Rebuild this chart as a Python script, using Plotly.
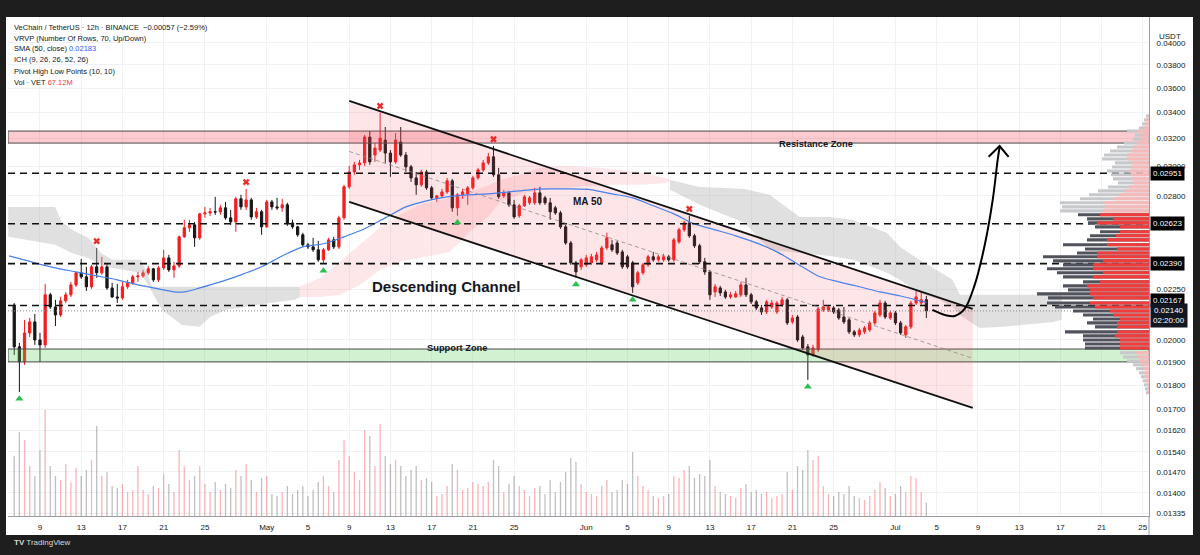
import numpy as np
import pandas as pd
import plotly.graph_objects as go

# ---------------- DATA ----------------
start_time = "2025-04-06 12:00"   # first 12h candle

opens = [0.02170,0.01968,0.01900,0.02033,0.02086,0.02000,0.01977,0.02222,0.02160,0.02120,
0.02191,0.02222,0.02274,0.02339,0.02317,0.02264,0.02372,0.02339,0.02372,0.02258,
0.02211,0.02206,0.02264,0.02285,0.02317,0.02322,0.02339,0.02361,0.02301,0.02366,
0.02422,0.02355,0.02377,0.02544,0.02598,0.02616,0.02538,0.02684,0.02690,0.02697,
0.02696,0.02722,0.02659,0.02634,0.02780,0.02728,0.02773,0.02665,0.02697,0.02604,
0.02760,0.02728,0.02722,0.02741,0.02628,0.02604,0.02556,0.02497,0.02485,0.02468,
0.02411,0.02468,0.02526,0.02485,0.02659,0.02859,0.02960,0.03009,0.03023,0.03211,
0.03079,0.03115,0.03188,0.03093,0.03030,0.03174,0.03079,0.02995,0.02919,0.02872,
0.02960,0.02852,0.02786,0.02799,0.02825,0.02899,0.02722,0.02806,0.02812,0.02852,
0.02919,0.02974,0.03023,0.03066,0.02940,0.02799,0.02819,0.02741,0.02672,0.02735,
0.02754,0.02754,0.02819,0.02786,0.02754,0.02722,0.02690,0.02604,0.02508,0.02394,
0.02372,0.02383,0.02394,0.02411,0.02394,0.02479,0.02497,0.02508,0.02456,0.02428,
0.02394,0.02285,0.02339,0.02383,0.02428,0.02411,0.02411,0.02428,0.02411,0.02514,
0.02586,0.02628,0.02550,0.02491,0.02400,0.02344,0.02237,0.02258,0.02237,0.02211,
0.02211,0.02222,0.02274,0.02222,0.02186,0.02155,0.02135,0.02160,0.02135,0.02170,
0.02196,0.02086,0.02110,0.02014,0.01968,0.01931,0.01954,0.02145,0.02145,0.02155,
0.02145,0.02110,0.02096,0.02038,0.02024,0.02038,0.02047,0.02081,0.02120,0.02180,
0.02105,0.02130,0.02081,0.02024,0.02062,0.02180,0.02180,0.02197]

highs = [0.02180,0.01986,0.02096,0.02105,0.02125,0.02033,0.02279,0.02232,0.02196,0.02211,
0.02237,0.02290,0.02344,0.02416,0.02372,0.02383,0.02479,0.02428,0.02394,0.02285,
0.02279,0.02290,0.02301,0.02328,0.02344,0.02355,0.02377,0.02366,0.02377,0.02468,
0.02439,0.02400,0.02550,0.02647,0.02647,0.02634,0.02690,0.02728,0.02722,0.02793,
0.02741,0.02760,0.02709,0.02793,0.02806,0.02845,0.02786,0.02722,0.02709,0.02773,
0.02773,0.02786,0.02780,0.02754,0.02647,0.02610,0.02568,0.02508,0.02538,0.02520,
0.02479,0.02538,0.02544,0.02672,0.02872,0.03002,0.03030,0.03044,0.03226,0.03256,
0.03166,0.03398,0.03287,0.03115,0.03241,0.03287,0.03100,0.03009,0.02960,0.02974,
0.02974,0.02865,0.02806,0.02845,0.02919,0.02912,0.02819,0.02845,0.02865,0.02933,
0.02988,0.03044,0.03093,0.03144,0.02988,0.02839,0.02832,0.02773,0.02747,0.02806,
0.02799,0.02852,0.02859,0.02799,0.02786,0.02735,0.02703,0.02616,0.02520,0.02405,
0.02422,0.02439,0.02445,0.02456,0.02491,0.02568,0.02526,0.02520,0.02468,0.02439,
0.02405,0.02350,0.02394,0.02439,0.02456,0.02439,0.02445,0.02439,0.02538,0.02598,
0.02641,0.02672,0.02562,0.02503,0.02422,0.02355,0.02279,0.02269,0.02248,0.02237,
0.02242,0.02290,0.02312,0.02232,0.02196,0.02170,0.02196,0.02196,0.02191,0.02211,
0.02206,0.02120,0.02120,0.02024,0.01981,0.01977,0.02160,0.02196,0.02170,0.02165,
0.02155,0.02160,0.02105,0.02047,0.02057,0.02066,0.02091,0.02140,0.02196,0.02191,
0.02140,0.02140,0.02091,0.02071,0.02191,0.02248,0.02237,0.02216]

lows = [0.01931,0.01771,0.01887,0.02014,0.01977,0.01900,0.01963,0.02150,0.02066,0.02110,
0.02180,0.02211,0.02264,0.02306,0.02242,0.02253,0.02312,0.02328,0.02248,0.02206,
0.02180,0.02196,0.02253,0.02274,0.02290,0.02312,0.02328,0.02290,0.02290,0.02355,
0.02344,0.02312,0.02366,0.02538,0.02574,0.02485,0.02526,0.02659,0.02672,0.02678,
0.02678,0.02647,0.02616,0.02574,0.02709,0.02709,0.02647,0.02653,0.02556,0.02598,
0.02709,0.02709,0.02697,0.02610,0.02592,0.02544,0.02485,0.02473,0.02456,0.02400,
0.02388,0.02462,0.02473,0.02473,0.02647,0.02845,0.02940,0.02974,0.03002,0.03009,
0.03030,0.03100,0.03023,0.02926,0.03016,0.03066,0.02960,0.02892,0.02806,0.02859,
0.02839,0.02773,0.02760,0.02786,0.02812,0.02697,0.02672,0.02780,0.02741,0.02839,
0.02906,0.02960,0.03009,0.02926,0.02780,0.02786,0.02728,0.02653,0.02659,0.02728,
0.02741,0.02741,0.02741,0.02741,0.02647,0.02678,0.02592,0.02497,0.02383,0.02312,
0.02355,0.02372,0.02383,0.02400,0.02383,0.02468,0.02456,0.02439,0.02361,0.02361,
0.02232,0.02274,0.02328,0.02372,0.02400,0.02400,0.02400,0.02400,0.02400,0.02503,
0.02574,0.02538,0.02479,0.02388,0.02328,0.02196,0.02211,0.02216,0.02201,0.02201,
0.02206,0.02211,0.02211,0.02175,0.02145,0.02120,0.02125,0.02150,0.02125,0.02160,
0.02071,0.02076,0.01991,0.01954,0.01822,0.01922,0.01945,0.02135,0.02135,0.02125,
0.02096,0.02076,0.02028,0.02014,0.02014,0.02028,0.02038,0.02071,0.02110,0.02100,
0.02096,0.02071,0.02024,0.02009,0.02052,0.02170,0.02170,0.02105]

closes = [0.01968,0.01900,0.02033,0.02086,0.02000,0.01977,0.02222,0.02160,0.02120,0.02191,
0.02222,0.02274,0.02339,0.02317,0.02264,0.02372,0.02339,0.02372,0.02258,0.02211,
0.02206,0.02264,0.02285,0.02317,0.02322,0.02339,0.02361,0.02301,0.02366,0.02422,
0.02355,0.02377,0.02544,0.02598,0.02616,0.02538,0.02684,0.02690,0.02697,0.02696,
0.02722,0.02659,0.02634,0.02780,0.02728,0.02773,0.02665,0.02697,0.02604,0.02760,
0.02728,0.02722,0.02741,0.02628,0.02604,0.02556,0.02497,0.02485,0.02468,0.02411,
0.02468,0.02526,0.02485,0.02659,0.02859,0.02960,0.03009,0.03023,0.03211,0.03030,
0.03129,0.03203,0.03093,0.03030,0.03188,0.03079,0.02995,0.02919,0.02872,0.02960,
0.02852,0.02786,0.02799,0.02825,0.02899,0.02722,0.02806,0.02825,0.02852,0.02919,
0.02974,0.03023,0.03066,0.02940,0.02793,0.02819,0.02741,0.02665,0.02735,0.02793,
0.02786,0.02819,0.02754,0.02754,0.02697,0.02690,0.02604,0.02508,0.02394,0.02344,
0.02411,0.02422,0.02428,0.02439,0.02479,0.02538,0.02468,0.02450,0.02372,0.02372,
0.02264,0.02339,0.02383,0.02428,0.02411,0.02428,0.02428,0.02411,0.02526,0.02586,
0.02628,0.02550,0.02491,0.02400,0.02344,0.02222,0.02264,0.02232,0.02211,0.02222,
0.02227,0.02274,0.02222,0.02186,0.02155,0.02135,0.02186,0.02180,0.02180,0.02196,
0.02081,0.02105,0.02000,0.01963,0.01931,0.01963,0.02150,0.02160,0.02160,0.02135,
0.02105,0.02086,0.02038,0.02024,0.02047,0.02057,0.02081,0.02130,0.02180,0.02110,
0.02130,0.02081,0.02033,0.02062,0.02180,0.02211,0.02197,0.02140]

volumes_m = [300,420,380,250,200,330,530,250,200,180,
260,170,240,200,230,280,450,200,220,150,
140,160,120,130,250,130,110,150,140,210,
160,120,330,250,180,200,250,160,120,170,
130,160,140,230,200,260,180,120,190,200,
110,100,120,150,110,130,150,100,130,170,
200,150,120,280,380,300,220,180,430,400,
250,460,300,260,280,250,200,230,250,180,
190,170,100,110,150,260,230,130,140,170,
160,150,170,280,250,120,160,200,150,130,
100,140,150,110,180,120,170,220,290,270,
160,120,110,100,150,180,120,130,180,160,
320,200,150,130,100,90,100,110,200,190,
230,250,190,210,200,280,150,120,110,100,
90,140,160,120,130,110,120,90,100,110,
220,130,250,230,330,280,300,150,110,100,
120,110,150,100,90,80,100,130,170,140,
100,110,150,120,200,190,120,67.12]

pivot_high_idx = [16, 45, 71, 93, 131]
pivot_low_idx = [1, 60, 86, 109, 120, 154]

# SMA 50
ma_dates = ["2025-04-06 00:00","2025-04-08 12:00","2025-04-10 12:00","2025-04-12 12:00","2025-04-14 12:00",
"2025-04-16 12:00","2025-04-18 12:00","2025-04-20 12:00","2025-04-22 00:00","2025-04-23 00:00",
"2025-04-24 12:00","2025-04-26 12:00","2025-04-28 12:00","2025-04-30 12:00","2025-05-02 12:00",
"2025-05-04 12:00","2025-05-06 12:00","2025-05-08 12:00","2025-05-10 12:00","2025-05-12 12:00",
"2025-05-14 12:00","2025-05-16 12:00","2025-05-18 12:00","2025-05-20 12:00","2025-05-22 12:00",
"2025-05-24 12:00","2025-05-26 12:00","2025-05-28 12:00","2025-05-30 12:00","2025-06-01 12:00",
"2025-06-03 12:00","2025-06-05 12:00","2025-06-07 12:00","2025-06-09 12:00","2025-06-11 12:00",
"2025-06-13 12:00","2025-06-15 12:00","2025-06-17 12:00","2025-06-19 12:00","2025-06-21 12:00",
"2025-06-23 12:00","2025-06-25 12:00","2025-06-27 12:00","2025-06-29 12:00","2025-07-01 12:00",
"2025-07-04 00:00"]
ma_values = [0.02433,0.02394,0.02366,0.02344,0.02322,0.02301,0.02274,0.02253,0.02237,0.02237,
0.02258,0.02290,0.02328,0.02372,0.02433,0.02485,0.02503,0.02544,0.02592,0.02659,
0.02728,0.02767,0.02793,0.02806,0.02812,0.02825,0.02839,0.02845,0.02845,0.02839,
0.02812,0.02786,0.02735,0.02684,0.02622,0.02586,0.02550,0.02508,0.02456,0.02388,
0.02322,0.02290,0.02264,0.02237,0.02216,0.02183]

# Ichimoku cloud (upper / lower edges), three stretches
cloud_a_dates = ["2025-04-05 22:00","2025-04-10 11:00","2025-04-11 03:00","2025-04-12 02:00","2025-04-13 16:00",
"2025-04-14 22:00","2025-04-16 00:00","2025-04-18 19:00","2025-04-19 11:00","2025-04-19 21:00",
"2025-04-20 20:00","2025-04-22 19:00","2025-04-24 12:00","2025-04-25 12:00","2025-04-26 23:00",
"2025-04-28 21:00","2025-05-01 07:00","2025-05-03 18:00","2025-05-04 05:00"]
cloud_a_top = [0.02728,0.02728,0.02634,0.02586,0.02538,0.02450,0.02411,0.02411,0.02328,0.02264,
0.02264,0.02264,0.02264,0.02264,0.02264,0.02264,0.02264,0.02264,0.02264]
cloud_a_bot = [0.02544,0.02497,0.02479,0.02450,0.02422,0.02383,0.02366,0.02339,0.02274,0.02237,
0.02145,0.02071,0.02062,0.02110,0.02145,0.02160,0.02180,0.02196,0.02211]

cloud_b_dates = ["2025-05-04 05:00","2025-05-06 04:00","2025-05-08 02:00","2025-05-10 01:00","2025-05-11 23:00",
"2025-05-13 22:00","2025-05-15 21:00","2025-05-18 18:00","2025-05-20 17:00","2025-05-22 16:00",
"2025-05-23 15:00","2025-05-25 13:00","2025-05-27 12:00","2025-05-29 10:00","2025-06-02 08:00",
"2025-06-06 05:00","2025-06-08 15:00","2025-06-09 03:00"]
cloud_b_top = [0.02264,0.02312,0.02400,0.02497,0.02598,0.02678,0.02741,0.02786,0.02825,0.02872,
0.02905,0.02940,0.02988,0.03002,0.02988,0.02960,0.02919,0.02905]
cloud_b_bot = [0.02211,0.02211,0.02222,0.02274,0.02355,0.02400,0.02422,0.02456,0.02574,0.02678,
0.02760,0.02806,0.02839,0.02852,0.02872,0.02872,0.02885,0.02895]

cloud_c_dates = ["2025-06-09 03:00","2025-06-12 00:00","2025-06-13 23:00","2025-06-16 09:00","2025-06-18 19:00",
"2025-06-20 18:00","2025-06-21 17:00","2025-06-24 15:00","2025-06-26 21:00","2025-06-30 04:00",
"2025-07-01 10:00","2025-07-03 08:00","2025-07-05 07:00","2025-07-06 13:00","2025-07-07 06:00",
"2025-07-09 04:00","2025-07-11 10:00","2025-07-16 06:00","2025-07-17 03:00"]
cloud_c_top = [0.02905,0.02858,0.02852,0.02845,0.02806,0.02709,0.02665,0.02665,0.02646,0.02568,
0.02485,0.02411,0.02344,0.02301,0.02222,0.02222,0.02222,0.02222,0.02222]
cloud_c_bot = [0.02839,0.02741,0.02690,0.02628,0.02468,0.02456,0.02450,0.02433,0.02411,0.02339,
0.02301,0.02232,0.02196,0.02160,0.02120,0.02057,0.02062,0.02086,0.02096]

# Descending channel
channel_dates = ["2025-05-09 00:00", "2025-07-08 12:00"]
channel_upper = [0.03494, 0.02150]
channel_lower = [0.02760, 0.01707]
channel_mid = [0.03105, 0.01916]

# Horizontal levels and zones
dashed_levels = [0.02951, 0.02623, 0.02390, 0.02167]
last_price = 0.02140
resistance_zone = [0.03166, 0.03256]
support_zone = [0.01900, 0.01958]

# projected path (curved arrow)
arrow_dates = ["2025-07-04 14:00","2025-07-05 19:00","2025-07-06 18:00","2025-07-07 17:00","2025-07-08 16:30",
"2025-07-09 16:00","2025-07-10 10:30","2025-07-10 22:00","2025-07-11 02:30"]
arrow_prices = [0.02145,0.02120,0.02115,0.02150,0.02274,0.02497,0.02773,0.03044,0.03137]
arrowhead_dates = ["2025-07-10 01:00","2025-07-11 02:30","2025-07-11 23:30"]
arrowhead_prices = [0.03066,0.03144,0.03066]

# Visible-range volume profile (70 rows, Up/Down)
vp_price = [0.03373,0.03342,0.03311,0.03280,0.03256,0.03226,0.03196,0.03166,0.03137,0.03108,
0.03079,0.03051,0.03023,0.02994,0.02966,0.02940,0.02912,0.02885,0.02858,0.02832,
0.02806,0.02780,0.02754,0.02728,0.02703,
0.02678,0.02653,0.02628,0.02604,0.02574,0.02550,0.02526,0.02497,0.02473,0.02450,
0.02428,0.02405,0.02383,0.02361,0.02339,0.02317,0.02290,0.02269,0.02248,0.02227,
0.02206,0.02180,0.02160,0.02140,0.02120,0.02100,0.02081,0.02062,0.02038,0.02019,
0.02000,0.01981,0.01963,
0.01941,0.01922,0.01904,0.01887,0.01870,0.01852,0.01835,0.01818,0.01801,0.01784,0.01768]
vp_total = [3,5,7,10,22,14,16,25,32,39,45,47,34,37,42,38,36,31,41,51,60,69,89,87,89,
71,62,61,54,49,59,62,86,64,72,106,96,86,102,92,86,66,86,81,112,101,102,94,76,66,56,62,54,84,66,66,64,64,
29,26,22,16,13,10,8,6,5,4,3]
vp_up = [2,3,4,5,11,7,8,12,15,18,22,22,17,18,20,18,17,15,20,24,30,35,45,44,45,
49,36,52,29,29,33,42,42,32,52,52,46,56,56,46,56,49,62,59,59,56,59,54,39,36,29,32,32,32,34,29,29,29,
14,12,10,8,6,5,4,3,2,2,1]
value_area = [0.01950, 0.02690]

# axis ticks
x_tick_dates = ["2025-04-09","2025-04-13","2025-04-17","2025-04-21","2025-04-25","2025-05-01","2025-05-05",
"2025-05-09","2025-05-13","2025-05-17","2025-05-21","2025-05-25","2025-06-01","2025-06-05","2025-06-09",
"2025-06-13","2025-06-17","2025-06-21","2025-06-25","2025-07-01","2025-07-05","2025-07-09","2025-07-13",
"2025-07-17","2025-07-21","2025-07-25"]
x_tick_labels = ["9","13","17","21","25","May","5","9","13","17","21","25","Jun","5","9","13","17","21","25",
"Jul","5","9","13","17","21","25"]
y_tick_values = [0.04, 0.038, 0.036, 0.034, 0.032, 0.030, 0.028, 0.0225, 0.020, 0.019, 0.018, 0.017,
0.0162, 0.0154, 0.0147, 0.014, 0.01335]

# ---------------- STYLE / LAYOUT ----------------
W, H = 1200, 555
ML, MR, MT, MB = 8, 51, 17, 39
PLOT_W = W - ML - MR
PLOT_H = H - MT - MB
X_RANGE = ["2025-04-05 21:30", "2025-07-25 14:24"]
Y_LO, Y_HI = 0.013262, 0.042488
VOL_TOP = 2495
FONT = "Liberation Sans, Arial, sans-serif"
RED = "#f21d1d"
BLACK = "#161616"
TXT = "#131722"
GRID = "#f0f1f4"


def XP(px):
    return (px - ML) / PLOT_W


def YP(py):
    return (MT + PLOT_H - py) / PLOT_H


L10 = np.log10
times = pd.date_range(start_time, periods=len(closes), freq="12h")
n = min(len(opens), len(highs), len(lows), len(closes), len(volumes_m))

fig = go.Figure()


def add_line(xs, ys, color, width, dash="solid", **kw):
    fig.add_trace(go.Scatter(x=xs, y=ys, mode="lines", line=dict(color=color, width=width, dash=dash, **kw),
                             hoverinfo="skip", showlegend=False))


def poly(dates, top, bot, color, line=None):
    fig.add_trace(go.Scatter(
        x=list(dates) + list(dates)[::-1] + [list(dates)[0]],
        y=list(top) + list(bot)[::-1] + [list(top)[0]],
        fill="toself", fillcolor=color, line=line or dict(width=0), mode="lines",
        hoverinfo="skip", showlegend=False))


# zones (under everything)
full_x = [X_RANGE[0], X_RANGE[1]]
poly(full_x, [resistance_zone[1]] * 2, [resistance_zone[0]] * 2, "rgba(242,54,69,0.26)",
     dict(color="#4a4a4a", width=1))
poly(full_x, [support_zone[1]] * 2, [support_zone[0]] * 2, "rgba(90,210,90,0.28)",
     dict(color="#4a4a4a", width=1))

# Ichimoku cloud
poly(cloud_a_dates, cloud_a_top, cloud_a_bot, "rgba(170,170,170,0.36)")
poly(cloud_b_dates, cloud_b_top, cloud_b_bot, "rgba(247,82,95,0.14)")
poly(cloud_c_dates, cloud_c_top, cloud_c_bot, "rgba(170,170,170,0.36)")

# channel fill
poly(channel_dates, channel_upper, channel_lower, "rgba(247,82,95,0.15)")

# volume bars
vol_colors = ["rgba(242,60,60,0.38)" if closes[i] >= opens[i] else "rgba(90,90,90,0.38)" for i in range(n)]
fig.add_trace(go.Bar(x=times[:n], y=volumes_m[:n], marker=dict(color=vol_colors, line=dict(width=0)),
                     width=11e6, yaxis="y2", hoverinfo="skip", showlegend=False))


# volume profile
def vp_lines(values, inside):
    xs, ys = [], []
    for p, v in zip(vp_price, values):
        in_va = value_area[0] <= p <= value_area[1]
        if in_va == inside:
            xs += [0, v, None]
            ys += [p, p, None]
    return xs, ys


for vals, inside, col in [(vp_total, False, "#c6c8cc"), (vp_up, False, "#f6b9b9"),
                          (vp_total, True, "#50535c"), (vp_up, True, "#f23c3c")]:
    xs, ys = vp_lines(vals, inside)
    fig.add_trace(go.Scatter(x=xs, y=ys, xaxis="x3", yaxis="y", mode="lines",
                             line=dict(color=col, width=3.1), hoverinfo="skip", showlegend=False))

# SMA 50
add_line(ma_dates, ma_values, "#4a80ea", 1.2, shape="spline", smoothing=0.8)

# candles
fig.add_trace(go.Candlestick(
    x=times[:n], open=opens[:n], high=highs[:n], low=lows[:n], close=closes[:n],
    increasing=dict(line=dict(color=RED, width=1), fillcolor=RED),
    decreasing=dict(line=dict(color=BLACK, width=1), fillcolor=BLACK),
    whiskerwidth=0, hoverinfo="skip", showlegend=False))

# horizontal levels
for lv in dashed_levels:
    add_line(full_x, [lv, lv], "#111111", 1.6, "7px,5px")
add_line(full_x, [last_price, last_price], "#8a8a8a", 1, "1px,2px")

# channel lines
add_line(channel_dates, channel_upper, "#111111", 1.8)
add_line(channel_dates, channel_lower, "#111111", 1.8)
add_line(channel_dates, channel_mid, "rgba(140,140,140,0.8)", 1, "4px,3px")

# pivot markers
fig.add_trace(go.Scatter(x=[times[i] for i in pivot_high_idx], y=[highs[i] * 1.016 for i in pivot_high_idx],
                         mode="markers", marker=dict(symbol="x", size=6, color="#ef2b2b", line=dict(width=0)),
                         hoverinfo="skip", showlegend=False))
fig.add_trace(go.Scatter(x=[times[i] for i in pivot_low_idx], y=[lows[i] / 1.016 for i in pivot_low_idx],
                         mode="markers", marker=dict(symbol="triangle-up", size=7, color="#2bbd4e", line=dict(width=0)),
                         hoverinfo="skip", showlegend=False))

# projected arrow
add_line(arrow_dates, arrow_prices, "#000000", 2, shape="spline", smoothing=1.0)
add_line(arrowhead_dates, arrowhead_prices, "#000000", 2)

# ---------------- SHAPES ----------------
shapes = [
    dict(type="rect", xref="paper", yref="paper", x0=XP(6), x1=XP(1193), y0=YP(535), y1=1,
         fillcolor="#ffffff", line=dict(width=0), layer="below"),
    dict(type="line", xref="paper", yref="paper", x0=1, x1=1, y0=YP(535), y1=0,
         line=dict(color="#9a9ca3", width=1)),
]

# ---------------- ANNOTATIONS ----------------
ann = []
legend_lines = [
    "VeChain / TetherUS · 12h · BINANCE  −0.00057 (−2.59%)",
    "VRVP (Number Of Rows, 70, Up/Down)",
    "SMA (50, close) <span style='color:#2962ff'>0.02183</span>",
    "ICH (9, 26, 26, 52, 26)",
    "Pivot High Low Points (10, 10)",
    "Vol · VET <span style='color:#f23645'>67.12M</span>",
]
for k, t in enumerate(legend_lines):
    ann.append(dict(text=t, xref="paper", yref="paper", x=XP(12), y=YP(27 + 11 * k), xanchor="left",
                    yanchor="middle", showarrow=False, font=dict(size=7.5, color=TXT, family=FONT)))

ann.append(dict(text="<b>Resistance Zone</b>", xref="paper", yref="paper", x=XP(855), y=YP(137),
                showarrow=False, font=dict(size=9.3, color=TXT, family=FONT)))
ann.append(dict(text="<b>Support Zone</b>", xref="paper", yref="paper", x=XP(457), y=YP(355),
                showarrow=False, font=dict(size=9.3, color=TXT, family=FONT)))
ann.append(dict(text="<b>Descending Channel</b>", xref="paper", yref="paper", x=XP(446), y=YP(286),
                showarrow=False, font=dict(size=15, color=TXT, family=FONT)))
ann.append(dict(text="<b>MA 50</b>", xref="paper", yref="paper", x=XP(588), y=YP(201),
                showarrow=False, font=dict(size=10, color=TXT, family=FONT)))
ann.append(dict(text="USDT", xref="paper", yref="paper", x=XP(1157), y=YP(30), xanchor="left",
                showarrow=False, font=dict(size=8, color=TXT, family=FONT)))
for lv, shift in [(0.02951, 0), (0.02623, 0), (0.02390, 0), (0.02167, 5)]:
    ann.append(dict(text=f"{lv:.5f}", xref="paper", yref="y", x=1, y=L10(lv), xanchor="left", xshift=1,
                    yshift=shift, showarrow=False, bgcolor="#000000", borderpad=2,
                    font=dict(size=8, color="#ffffff", family=FONT)))
ann.append(dict(text=f"{last_price:.5f}<br>02:20:00", xref="paper", yref="y", x=1, y=L10(last_price),
                xanchor="left", xshift=1, yshift=-5, showarrow=False, bgcolor="#131722", borderpad=2,
                font=dict(size=8, color="#ffffff", family=FONT)))
ann.append(dict(text="<b>TV</b> TradingView", xref="paper", yref="paper", x=XP(12), y=YP(549),
                xanchor="left", showarrow=False, font=dict(size=8, color="#d8d8d8", family=FONT)))

fig.update_layout(
    width=W, height=H, autosize=False,
    margin=dict(l=ML, r=MR, t=MT, b=MB, pad=0),
    paper_bgcolor="#1e1e1e", plot_bgcolor="#ffffff",
    showlegend=False, boxgap=0.38,
    font=dict(family=FONT, color=TXT, size=8),
    shapes=shapes, annotations=ann,
    xaxis=dict(type="date", range=X_RANGE, tickvals=x_tick_dates, ticktext=x_tick_labels,
               showgrid=True, gridcolor=GRID, gridwidth=1, showline=True, linecolor="#9a9ca3",
               linewidth=1, ticks="", ticklabelstandoff=3, tickfont=dict(size=8, color=TXT, family=FONT),
               rangeslider=dict(visible=False), zeroline=False, fixedrange=True),
    yaxis=dict(type="log", range=[L10(Y_LO), L10(Y_HI)], side="right", tickvals=y_tick_values,
               ticktext=[f"{v:.5f}" for v in y_tick_values], showgrid=True, gridcolor=GRID,
               showline=True, linecolor="#9a9ca3", ticks="", ticklabelstandoff=5,
               tickfont=dict(size=8, color=TXT, family=FONT), zeroline=False, fixedrange=True),
    yaxis2=dict(overlaying="y", range=[0, VOL_TOP], visible=False, fixedrange=True),
    xaxis3=dict(overlaying="x", range=[PLOT_W, 0], visible=False, fixedrange=True),
)

fig.write_html("out.html", config={"displayModeBar": False},
               post_script="document.body.style.margin='0px';document.body.style.overflow='hidden';")
